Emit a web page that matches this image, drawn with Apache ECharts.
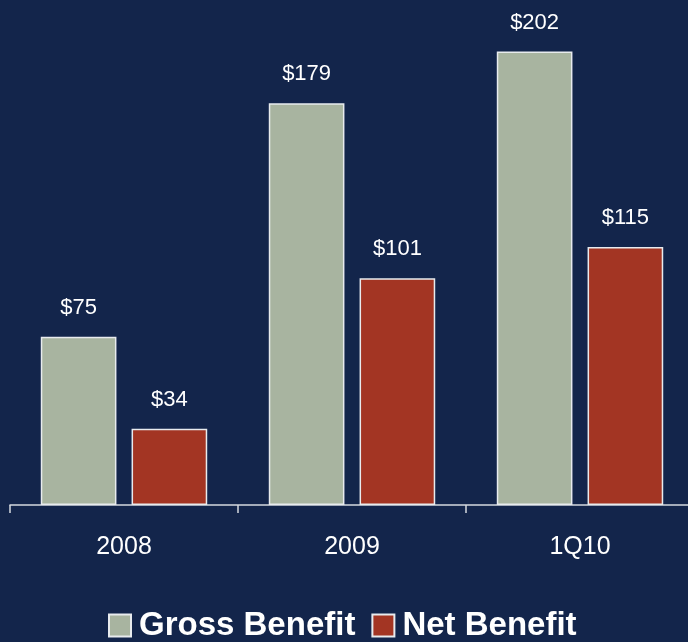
<!DOCTYPE html>
<html>
<head>
<meta charset="utf-8">
<script src="https://cdn.jsdelivr.net/npm/echarts@6/dist/echarts.min.js"></script>
<style>
  html, body { margin: 0; padding: 0; background: #13254b; }
  #chart { width: 688px; height: 642px; }
</style>
</head>
<body>
<div id="chart"></div>
<script>
const categories = ['2008', '2009', '1Q10']
const grossBenefit = [75, 179, 202]
const netBenefit = [34, 101, 115]

const font = '"Liberation Sans", Arial, sans-serif'

function barLabel () {
  return {
    show: true,
    position: 'top',
    distance: 18,
    color: '#ffffff',
    fontSize: 22,
    fontFamily: font,
    formatter: function (params) {
      return '$' + params.value
    }
  }
}

const option = {
  backgroundColor: '#13254b',
  animation: false,
  grid: {
    left: 10,
    right: -6,
    top: 0,
    bottom: 137,
    outerBoundsMode: 'none'
  },
  legend: {
    left: 103,
    top: 604,
    itemWidth: 22,
    itemHeight: 22,
    itemGap: 16,
    icon: 'rect',
    textStyle: {
      color: '#ffffff',
      fontSize: 33,
      fontWeight: 'bold',
      fontFamily: font,
      padding: [0, 0, 0, 3]
    },
    data: ['Gross Benefit', 'Net Benefit']
  },
  xAxis: {
    type: 'category',
    data: categories,
    axisLine: {
      show: true,
      lineStyle: { color: '#d5d9e0', width: 1.5 }
    },
    axisTick: {
      show: true,
      length: 8,
      lineStyle: { color: '#d5d9e0', width: 1.5 }
    },
    axisLabel: {
      color: '#ffffff',
      fontSize: 25,
      fontFamily: font,
      margin: 30
    }
  },
  yAxis: {
    type: 'value',
    min: 0,
    max: 225,
    show: false,
    splitLine: { show: false }
  },
  series: [
    {
      name: 'Gross Benefit',
      type: 'bar',
      data: grossBenefit,
      barGap: '20%',
      barCategoryGap: '27%',
      itemStyle: {
        color: '#a8b4a0',
        borderColor: '#e8ebee',
        borderWidth: 1.5
      },
      label: barLabel()
    },
    {
      name: 'Net Benefit',
      type: 'bar',
      data: netBenefit,
      itemStyle: {
        color: '#a33523',
        borderColor: '#e8ebee',
        borderWidth: 1.5
      },
      label: barLabel()
    }
  ]
}

const chart = echarts.init(document.getElementById('chart'))
chart.setOption(option)
</script>
</body>
</html>
